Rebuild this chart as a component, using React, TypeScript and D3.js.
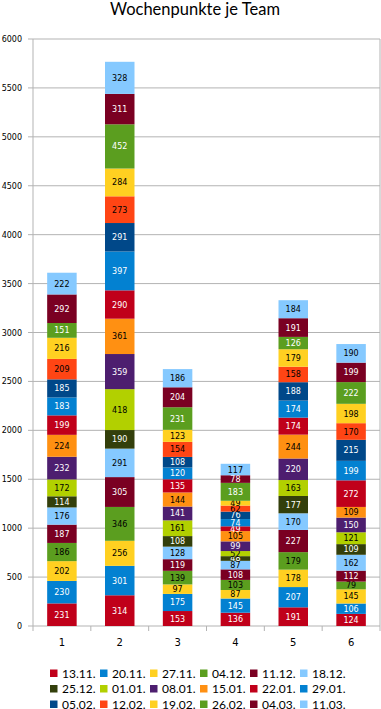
import React from "react";
import * as d3 from "d3";

const teams = ["1", "2", "3", "4", "5", "6"];
const weeks = ["13.11.", "20.11.", "27.11.", "04.12.", "11.12.", "18.12.", "25.12.", "01.01.", "08.01.", "15.01.", "22.01.", "29.01.", "05.02.", "12.02.", "19.02.", "26.02.", "04.03.", "11.03."];
const weekColors = ["#c0001a", "#0381d1", "#ffd021", "#5b9e1f", "#7a0022", "#85c9ff", "#333f0b", "#b2d000", "#4d1e6f", "#ff9012", "#c0001a", "#0381d1", "#004889", "#ff4514", "#ffd021", "#5b9e1f", "#7a0022", "#85c9ff"];
const labelColors = ["#fff", "#fff", "#000", "#000", "#fff", "#000", "#fff", "#000", "#fff", "#000", "#fff", "#fff", "#fff", "#000", "#000", "#fff", "#fff", "#000"];

const team1 = [231, 230, 202, 186, 187, 176, 114, 172, 232, 224, 199, 183, 185, 209, 216, 151, 292, 222];
const team2 = [314, 301, 256, 346, 305, 291, 190, 418, 359, 361, 290, 397, 291, 273, 284, 452, 311, 328];
const team3 = [153, 175, 97, 139, 119, 128, 108, 161, 141, 144, 135, 120, 108, 154, 123, 231, 204, 186];
const team4 = [136, 145, 87, 103, 108, 87, 48, 52, 99, 105, 49, 74, 76, 62, 49, 183, 78, 117];
const team5 = [191, 207, 178, 179, 227, 170, 177, 163, 220, 244, 174, 174, 188, 158, 179, 126, 191, 184];
const team6 = [124, 106, 145, 79, 112, 162, 109, 121, 150, 109, 272, 199, 215, 170, 198, 222, 199, 190];
const yTicks = [0, 500, 1000, 1500, 2000, 2500, 3000, 3500, 4000, 4500, 5000, 5500, 6000];

const teamValues = [team1, team2, team3, team4, team5, team6];

export default function App() {
  const W = 381, H = 709;
  const left = 33, right = 380, top = 39, bottom = 626;
  const x = d3.scaleBand<string>().domain(teams).range([left, right]).paddingInner(0.49).paddingOuter(0.245);
  const y = d3.scaleLinear().domain([0, 6000]).range([bottom, top]);
  const rows = teams.map((t, i) => {
    const o: any = { team: t };
    weeks.forEach((w, j) => (o[w] = teamValues[i][j]));
    return o;
  });
  const stacked = d3.stack().keys(weeks)(rows);
  const step = (right - left) / teams.length;
  const legendFont = "Lato, 'Open Sans', sans-serif";
  const smallFont = "'DejaVu Sans', Verdana, sans-serif";

  return (
    <svg width={W} height={H} style={{ position: "absolute", left: 0, top: 0, background: "#fff" }}>
      <rect width={W} height={H} fill="#fff" />
      <text x={195} y={15} textAnchor="middle" fontFamily={legendFont} fontSize={16.5} fill="#000">Wochenpunkte je Team</text>
      {yTicks.map((t) => (
        <g key={t}>
          {t > 0 && <line x1={left} x2={right} y1={y(t)} y2={y(t)} stroke="#b3b3b3" strokeWidth={1} />}
          <line x1={left - 5} x2={left} y1={y(t)} y2={y(t)} stroke="#b3b3b3" />
          <text x={22} y={y(t) + 3} textAnchor="end" fontFamily={smallFont} fontSize={8} fill="#000">{t}</text>
        </g>
      ))}
      <line x1={left} x2={left} y1={top} y2={bottom} stroke="#b3b3b3" />
      <line x1={right} x2={right} y1={top} y2={bottom} stroke="#b3b3b3" />
      <line x1={left} x2={right} y1={bottom} y2={bottom} stroke="#b3b3b3" />
      {d3.range(teams.length + 1).map((i) => (
        <line key={i} x1={left + i * step} x2={left + i * step} y1={bottom} y2={bottom + 5} stroke="#b3b3b3" />
      ))}
      {teams.map((t) => (
        <text key={t} x={(x(t) as number) + x.bandwidth() / 2} y={646} textAnchor="middle" fontFamily={smallFont} fontSize={10} fill="#000">{t}</text>
      ))}
      {stacked.map((s, si) => (
        <g key={weeks[si]}>
          {s.map((d, di) => {
            const x0 = x(teams[di]) as number;
            const y0 = y(d[1]);
            const h = y(d[0]) - y(d[1]);
            return (
              <g key={di}>
                <rect x={x0} y={y0} width={x.bandwidth()} height={h} fill={weekColors[si]} />
                <text x={x0 + x.bandwidth() / 2} y={y0 + h / 2 + 3} textAnchor="middle" fontFamily={smallFont} fontSize={8} fill={labelColors[si]}>{d[1] - d[0]}</text>
              </g>
            );
          })}
        </g>
      ))}
      {weeks.map((w, i) => {
        const col = i % 6, row = Math.floor(i / 6);
        const lx = 50 + col * 50;
        const ly = 673.5 + row * 15.5;
        return (
          <g key={w}>
            <rect x={lx} y={ly - 4} width={7.5} height={7.5} fill={weekColors[i]} />
            <text x={lx + 12} y={ly + 4} fontFamily={legendFont} fontSize={12} fill="#000">{w}</text>
          </g>
        );
      })}
    </svg>
  );
}
